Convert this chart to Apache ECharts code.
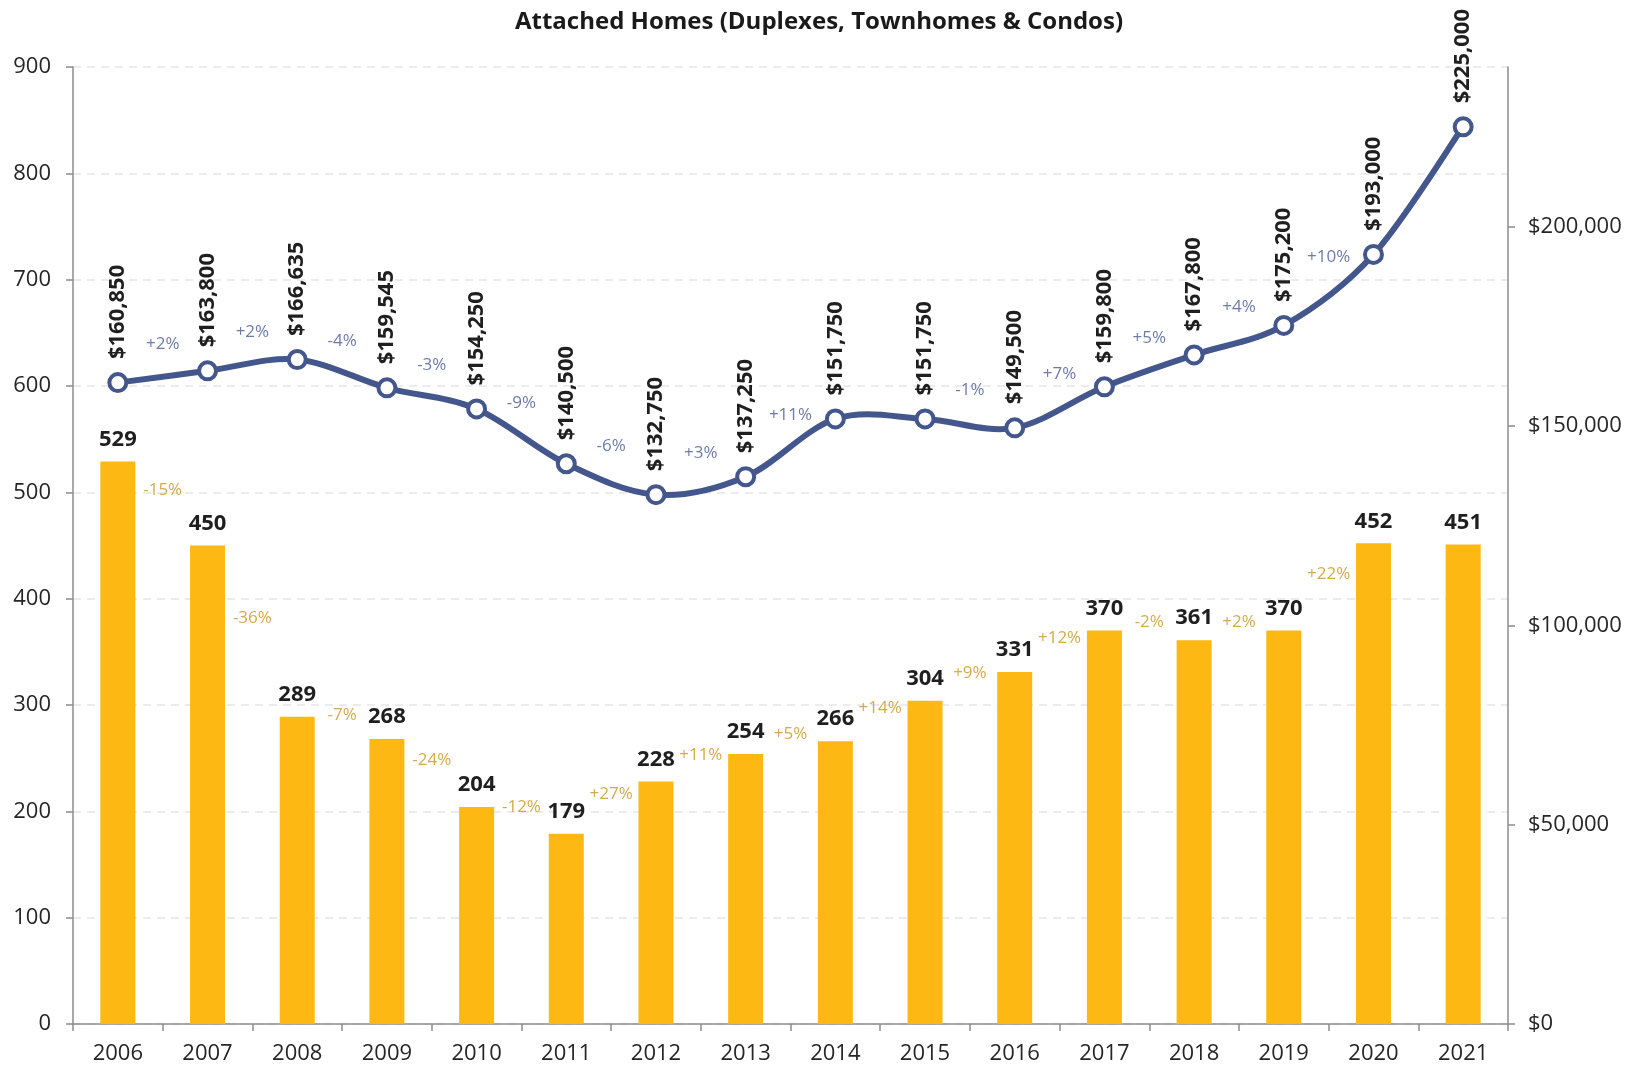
<!DOCTYPE html>
<html>
<head>
<meta charset="utf-8">
<script src="https://cdn.jsdelivr.net/npm/echarts@6/dist/echarts.min.js"></script>
<style>
html, body { margin: 0; padding: 0; background: #fff; }
#chart { width: 1638px; height: 1078px; }
</style>
</head>
<body>
<div id="chart"></div>
<script>
// 年份
let years = ['2006', '2007', '2008', '2009', '2010', '2011', '2012', '2013', '2014', '2015', '2016', '2017', '2018', '2019', '2020', '2021'];
// 成交套数 (柱)
let sales = [529, 450, 289, 268, 204, 179, 228, 254, 266, 304, 331, 370, 361, 370, 452, 451];
// 中位价 (线)
let prices = [160850, 163800, 166635, 159545, 154250, 140500, 132750, 137250, 151750, 151750, 149500, 159800, 167800, 175200, 193000, 225000];
// 相邻年份变化 (图上文字)
let priceChange = ['+2%', '+2%', '-4%', '-3%', '-9%', '-6%', '+3%', '+11%', '', '-1%', '+7%', '+5%', '+4%', '+10%', ''];
let salesChange = ['-15%', '-36%', '-7%', '-24%', '-12%', '+27%', '+11%', '+5%', '+14%', '+9%', '+12%', '-2%', '+2%', '+22%', ''];
let leftTicks = [0, 100, 200, 300, 400, 500, 600, 700, 800, 900];
let rightTicks = [0, 50000, 100000, 150000, 200000];

let chart = echarts.init(document.getElementById('chart'));
let fontName = '"Open Sans", "Liberation Sans", sans-serif';
let axisColor = '#8c8c8c';
let lineColor = '#44578D';

// 变化标签挂在两年之间
let priceChangeData = [];
let salesChangeData = [];
for (let i = 0; i < years.length - 1; i++) {
    if (priceChange[i]) {
        priceChangeData.push({ name: priceChange[i], value: [i + 0.5, (prices[i] + prices[i + 1]) / 2] });
    }
    if (salesChange[i]) {
        salesChangeData.push({ name: salesChange[i], value: [i + 0.5, (sales[i] + sales[i + 1]) / 2] });
    }
}

function money(v) {
    return '$' + v.toString().replace(/\B(?=(\d{3})+(?!\d))/g, ',');
}

// Excel 风格平滑曲线，每段一条贝塞尔
function renderCurve(params, api) {
    let i = params.dataIndex;
    let n = prices.length;
    if (i >= n - 1) return null;
    let pt = function (k) {
        k = Math.max(0, Math.min(n - 1, k));
        return api.coord([k, prices[k]]);
    };
    let p0 = pt(i - 1), p1 = pt(i), p2 = pt(i + 1), p3 = pt(i + 2);
    let t = 1 / 6;
    return {
        type: 'bezierCurve',
        shape: {
            x1: p1[0], y1: p1[1],
            x2: p2[0], y2: p2[1],
            cpx1: p1[0] + (p2[0] - p0[0]) * t,
            cpy1: p1[1] + (p2[1] - p0[1]) * t,
            cpx2: p2[0] - (p3[0] - p1[0]) * t,
            cpy2: p2[1] - (p3[1] - p1[1]) * t
        },
        style: { stroke: lineColor, lineWidth: 6, fill: null, lineCap: 'round' }
    };
}

let option = {
    backgroundColor: '#fff',
    animation: false,
    textStyle: { fontFamily: fontName },
    title: {
        text: 'Attached Homes (Duplexes, Townhomes & Condos)',
        left: 'center',
        top: 5,
        textStyle: { color: '#1a1a1a', fontSize: 24, fontWeight: 'bold', fontFamily: fontName }
    },
    grid: { left: 73, right: 130, top: 67, bottom: 54 },
    xAxis: [
        {
            type: 'category',
            data: years,
            axisLine: { onZero: false, lineStyle: { color: axisColor, width: 1.5 } },
            axisTick: { show: true, length: 7, lineStyle: { color: axisColor, width: 1.5 } },
            axisLabel: { color: '#262626', fontSize: 22, margin: 19, fontFamily: fontName },
            splitLine: { show: false }
        },
        {
            type: 'value',
            min: -0.5,
            max: 15.5,
            show: false,
            axisLine: { show: false, onZero: false },
            splitLine: { show: false }
        }
    ],
    yAxis: [
        {
            type: 'value',
            min: 0,
            max: 900,
            interval: 100,
            axisLine: { show: true, onZero: false, lineStyle: { color: axisColor, width: 1.5 } },
            axisTick: { show: true, length: 7, lineStyle: { color: axisColor, width: 1.5 } },
            axisLabel: { color: '#262626', fontSize: 22, margin: 22, fontFamily: fontName, customValues: leftTicks },
            splitLine: { show: true, lineStyle: { color: '#e6e6e6', width: 1.5, type: [8, 6] } }
        },
        {
            type: 'value',
            min: 0,
            max: 240000,
            interval: 50000,
            position: 'right',
            axisLine: { show: true, onZero: false, lineStyle: { color: axisColor, width: 1.5 } },
            axisTick: { show: true, length: 7, customValues: rightTicks, lineStyle: { color: axisColor, width: 1.5 } },
            axisLabel: {
                color: '#262626', fontSize: 22, margin: 20, fontFamily: fontName,
                customValues: rightTicks,
                formatter: function (v) { return v % 50000 === 0 ? money(v) : ''; }
            },
            splitLine: { show: false }
        }
    ],
    series: [
        {
            name: 'Sales',
            type: 'bar',
            data: sales,
            barWidth: 35,
            itemStyle: { color: '#FDB813' },
            label: {
                show: true,
                position: 'top',
                distance: 11,
                color: '#1f1f1f',
                fontSize: 22,
                fontWeight: 'bold',
                fontFamily: fontName
            },
            z: 2
        },
        {
            name: 'Price curve',
            type: 'custom',
            yAxisIndex: 1,
            data: prices,
            renderItem: renderCurve,
            silent: true,
            z: 4
        },
        {
            name: 'Median Price',
            type: 'line',
            yAxisIndex: 1,
            data: prices,
            symbol: 'circle',
            symbolSize: 17,
            lineStyle: { opacity: 0, width: 0 },
            itemStyle: { color: '#fff', borderColor: lineColor, borderWidth: 4 },
            label: {
                show: true,
                position: 'top',
                distance: 13,
                rotate: 90,
                align: 'left',
                verticalAlign: 'middle',
                color: '#1f1f1f',
                fontSize: 22,
                fontWeight: 'bold',
                fontFamily: fontName,
                formatter: function (p) { return money(p.value); }
            },
            z: 5
        },
        {
            name: 'Price change',
            type: 'scatter',
            xAxisIndex: 1,
            yAxisIndex: 1,
            data: priceChangeData,
            symbolSize: 1,
            itemStyle: { color: 'rgba(0,0,0,0)' },
            label: {
                show: true,
                position: 'top',
                distance: 24,
                formatter: '{b}',
                color: '#485A94',
                fontSize: 17,
                fontFamily: fontName
            },
            z: 4
        },
        {
            name: 'Sales change',
            type: 'scatter',
            xAxisIndex: 1,
            yAxisIndex: 0,
            data: salesChangeData,
            symbolSize: 1,
            itemStyle: { color: 'rgba(0,0,0,0)' },
            label: {
                show: true,
                position: 'top',
                distance: 4,
                formatter: '{b}',
                color: '#C8961A',
                fontSize: 17,
                fontFamily: fontName
            },
            z: 4
        }
    ]
};
chart.setOption(option);
window.addEventListener('resize', function () {
    chart.resize();
});
</script>
</body>
</html>
